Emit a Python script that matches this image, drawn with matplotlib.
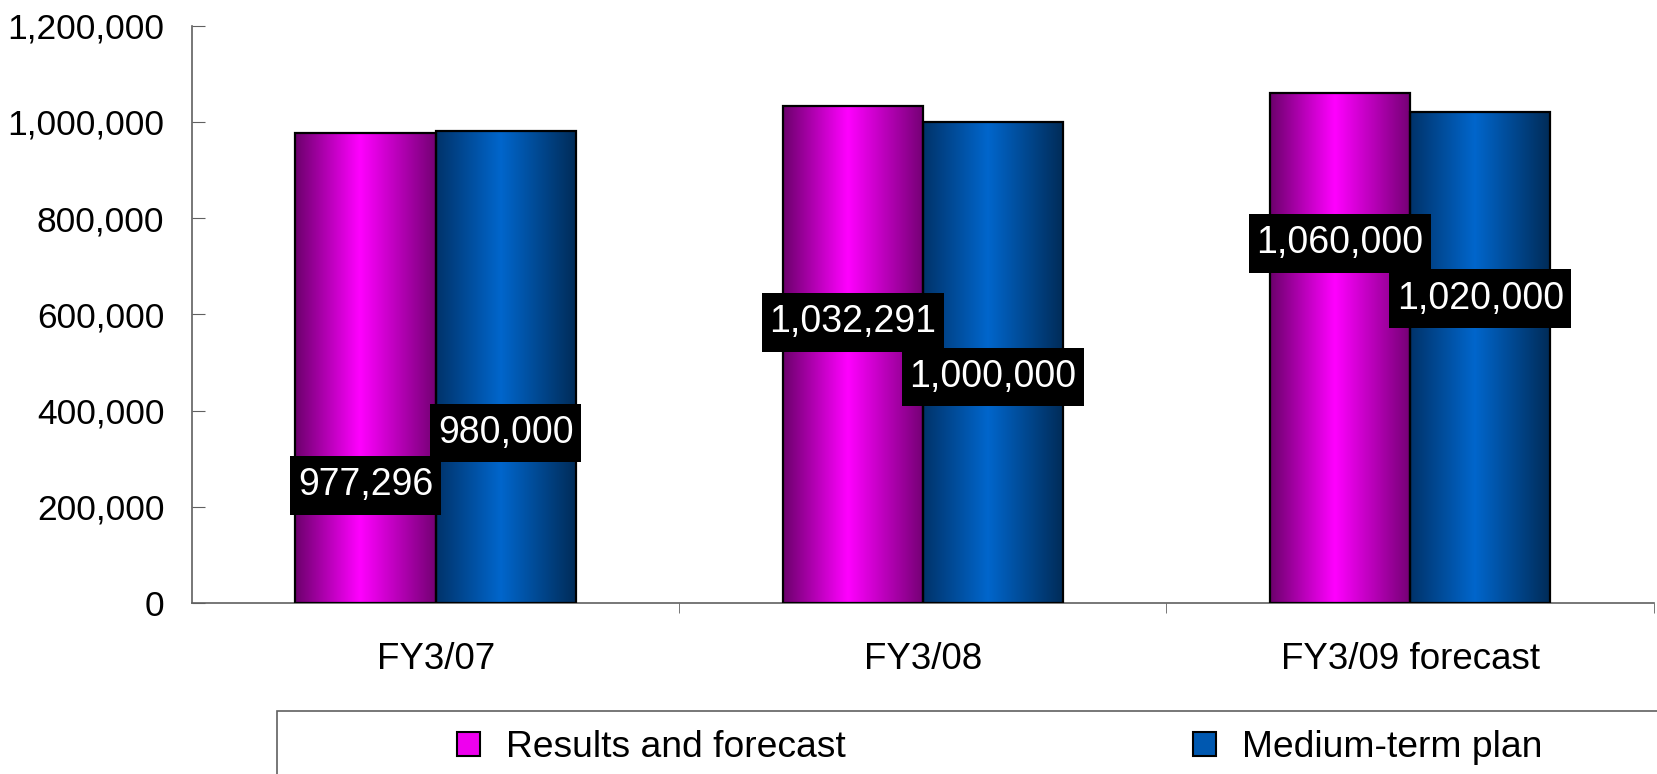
import numpy as np
import matplotlib.pyplot as plt
from matplotlib.patches import Rectangle, Patch
from matplotlib.path import Path
from matplotlib.ticker import FuncFormatter, FixedLocator

plt.rcParams['font.family'] = ['Liberation Sans', 'DejaVu Sans']

# --- data ---
categories = ['FY3/07', 'FY3/08', 'FY3/09 forecast']
results = [977296, 1032291, 1060000]
plan = [980000, 1000000, 1020000]
series_names = ['Results and forecast', 'Medium-term plan']

# where the value boxes sit, as a fraction of bar height (layout only)
results_lbl_frac = [0.25, 0.565, 0.705]
plan_lbl_frac = [0.36, 0.47, 0.62]

# gradient stops (dark edge, bright centre, dark edge)
mag_stops = ['#6c006c', '#ff00ff', '#740074']
blue_stops = ['#00336a', '#0066cc', '#002b57']


def grad_img(stops, n=200, peak=0.46):
    from matplotlib.colors import to_rgb
    c = np.array([to_rgb(s) for s in stops])
    t = np.linspace(0, 1, n)
    img = np.zeros((1, n, 3))
    for k in range(3):
        img[0, :, k] = np.interp(t, [0, peak, 1], c[:, k])
    return img


def label_box(x0, y0, width, height, mutation_size):
    # wider vertical than horizontal padding, like the original labels
    px = 0.2 * mutation_size
    py = 0.3 * mutation_size
    x0, y0 = x0 - px, y0 - py
    x1, y1 = x0 + width + 2 * px, y0 + height + 2 * py
    return Path([(x0, y0), (x1, y0), (x1, y1), (x0, y1), (x0, y0)], closed=True)


fig = plt.figure(figsize=(16.57, 7.74), dpi=100)
ax = fig.add_axes([0.1159, 0.2209, 0.8821, 0.7461])

x = np.arange(len(categories))
w = 0.288
off = w / 2

for vals, xs, stops in [(results, x - off, mag_stops), (plan, x + off, blue_stops)]:
    bars = ax.bar(xs, vals, w, facecolor='none', edgecolor='black', lw=1.6, zorder=3)
    img = grad_img(stops)
    for b in bars:
        x0, y0 = b.get_x(), b.get_y()
        im = ax.imshow(img, extent=[x0, x0 + b.get_width(), y0, y0 + b.get_height()],
                       aspect='auto', zorder=2, interpolation='bilinear')
        im.set_clip_path(b)

box = dict(boxstyle=label_box, facecolor='black', edgecolor='none')
for i in range(len(categories)):
    ax.text(x[i] - off, results[i] * results_lbl_frac[i], f'{results[i]:,}', color='white',
            ha='center', va='center', fontsize=27, bbox=box, zorder=5)
    ax.text(x[i] + off, plan[i] * plan_lbl_frac[i], f'{plan[i]:,}', color='white',
            ha='center', va='center', fontsize=27, bbox=box, zorder=5)

ax.set_xlim(-0.5, 2.5)
ax.set_ylim(0, 1200000)
ax.set_yticks(np.arange(0, 1200001, 200000))
ax.yaxis.set_major_formatter(FuncFormatter(lambda v, p: f'{int(v):,}'))
ax.tick_params(axis='y', direction='in', length=9, labelsize=25.5, pad=20, color='#606060')

ax.set_xticks(x)
ax.set_xticklabels(categories, fontsize=26.5)
ax.tick_params(axis='x', which='major', length=0, pad=28)
ax.xaxis.set_minor_locator(FixedLocator([0.5, 1.5, 2.5]))
ax.tick_params(axis='x', which='minor', direction='out', length=7, color='#606060')

for s in ['top', 'right']:
    ax.spines[s].set_visible(False)
for s in ['left', 'bottom']:
    ax.spines[s].set_color('#606060')
    ax.spines[s].set_linewidth(1.2)

# legend frame, running off the figure edge as in the source
fig.patches.append(Rectangle((0.167, -0.05), 0.9, 0.1314, transform=fig.transFigure,
                             facecolor='white', edgecolor='#606060', lw=1.2))
handles = [Patch(facecolor='#ee00ee', edgecolor='black', lw=1.5),
           Patch(facecolor='#0058b0', edgecolor='black', lw=1.5)]
fig.legend(handles, series_names, loc='center left', bbox_to_anchor=(0.276, 0.034),
           ncol=2, frameon=False, fontsize=26.8, handlelength=0.6, handleheight=0.6,
           handletextpad=0.7, columnspacing=9.35, borderpad=0, borderaxespad=0)

fig.savefig('out.png', dpi=100)
